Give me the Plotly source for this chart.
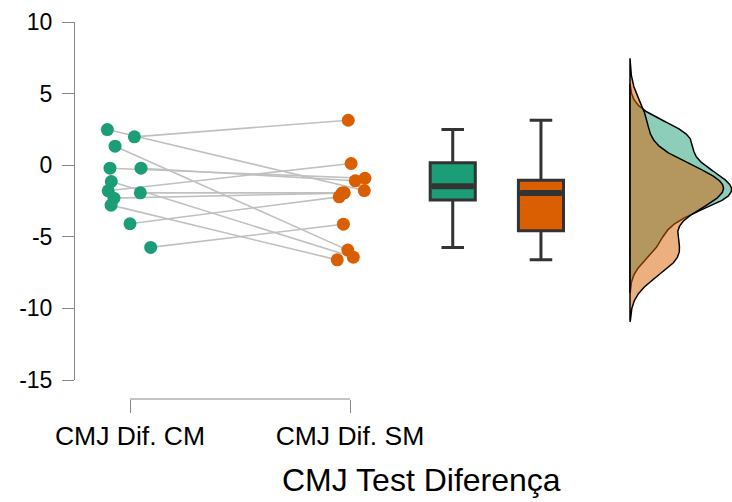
import numpy as np
import plotly.graph_objects as go

# ---------------- data ----------------
categories = ["CMJ Dif. CM", "CMJ Dif. SM"]
cm_values = [2.49, 1.98, 1.33, -0.21, -0.21, -1.14, -1.79, -1.93, -2.30, -2.79, -4.09, -5.74]
sm_values = [-1.77, 3.14, -5.93, -0.91, -1.09, -6.42, 0.12, -1.93, -1.95, -6.61, -2.21, -4.12]
cm_jitter = [-0.103, 0.020, -0.068, -0.091, 0.050, -0.085, -0.099, 0.047, -0.073, -0.086, 0.000, 0.094]
sm_jitter = [0.065, -0.008, -0.010, 0.068, 0.024, 0.015, 0.005, -0.026, -0.036, -0.058, -0.049, -0.030]
y_ticks = [-15, -10, -5, 0, 5, 10]
y_ticklabels = ["-15", "-10", "-5", "0", "5", "10"]
x_title = "CMJ Test Diferença"

# ---------------- styling / layout constants ----------------
GREEN = "#1b9e77"
ORANGE = "#d95f02"
FONT = "Liberation Sans, Arial, sans-serif"
cat_pos = [1, 2]
box_pos = [2.467, 2.868]
box_width = 0.205
dens_base = 3.2727
dens_peak_width = 0.462
x_range = [0.75, 0.75 + 657 / 220]

fig = go.Figure()

cm = np.array(cm_values)
sm = np.array(sm_values)
xcm = cat_pos[0] + np.array(cm_jitter)
xsm = cat_pos[1] + np.array(sm_jitter)

# connecting lines
for i in range(len(cm)):
    fig.add_trace(go.Scatter(x=[xcm[i], xsm[i]], y=[cm[i], sm[i]], mode="lines",
                             line=dict(color="#c0c0c0", width=1.6),
                             showlegend=False, hoverinfo="skip"))

fig.add_trace(go.Scatter(x=xcm, y=cm, mode="markers",
                         marker=dict(color=GREEN, size=13, line=dict(width=0)),
                         showlegend=False))
fig.add_trace(go.Scatter(x=xsm, y=sm, mode="markers",
                         marker=dict(color=ORANGE, size=13, line=dict(width=0)),
                         showlegend=False))

# boxes (stats computed from data)
for vals, pos, col in [(cm, box_pos[0], GREEN), (sm, box_pos[1], ORANGE)]:
    q1, med, q3 = np.percentile(vals, [25, 50, 75])
    iqr = q3 - q1
    lo = vals[vals >= q1 - 1.5 * iqr].min()
    hi = vals[vals <= q3 + 1.5 * iqr].max()
    fig.add_trace(go.Box(x=[pos], q1=[q1], median=[med], q3=[q3],
                         lowerfence=[lo], upperfence=[hi],
                         width=box_width, whiskerwidth=0.5,
                         fillcolor=col, line=dict(color="#333333", width=3),
                         boxpoints=False, showlegend=False))
    fig.add_trace(go.Scatter(x=[pos - box_width / 2 + 0.008, pos + box_width / 2 - 0.008],
                             y=[med, med], mode="lines",
                             line=dict(color="#333333", width=6),
                             showlegend=False, hoverinfo="skip"))


# densities (R-style gaussian KDE, bw.nrd0, cut = 3)
def kde(vals):
    n = len(vals)
    sd = vals.std(ddof=1)
    iqr = np.subtract(*np.percentile(vals, [75, 25]))
    bw = 0.9 * min(sd, iqr / 1.34) * n ** (-0.2)
    grid = np.linspace(vals.min() - 3 * bw, vals.max() + 3 * bw, 512)
    d = np.exp(-0.5 * ((grid[:, None] - vals[None, :]) / bw) ** 2).sum(1) / (n * bw * np.sqrt(2 * np.pi))
    return grid, d


g_cm, d_cm = kde(cm)
g_sm, d_sm = kde(sm)
scale = dens_peak_width / d_cm.max()
for g, d, fill in [(g_cm, d_cm, "rgba(27,158,119,0.5)"), (g_sm, d_sm, "rgba(217,95,2,0.5)")]:
    xs = np.concatenate([[dens_base], dens_base + d * scale, [dens_base, dens_base]])
    ys = np.concatenate([[g[0]], g, [g[-1], g[0]]])
    fig.add_trace(go.Scatter(x=xs, y=ys, mode="lines", fill="toself", fillcolor=fill,
                             line=dict(color="black", width=1.5),
                             showlegend=False, hoverinfo="skip"))

# x axis bracket line (R style)
fig.add_shape(type="line", xref="x", yref="paper", x0=cat_pos[0], x1=cat_pos[1], y0=0, y1=0,
              line=dict(color="#888888", width=1))

fig.add_annotation(text=x_title, xref="paper", yref="paper", x=0.5274, y=-0.215,
                   xanchor="center", yanchor="middle", showarrow=False,
                   font=dict(family=FONT, size=32, color="black"))

fig.update_layout(
    width=732, height=502,
    margin=dict(l=75, r=0, t=22, b=103, autoexpand=False),
    plot_bgcolor="white", paper_bgcolor="white",
    font=dict(family=FONT, color="black"),
    xaxis=dict(range=x_range, tickvals=cat_pos, ticktext=categories,
               ticks="outside", ticklen=13, tickcolor="#888888", tickwidth=1,
               showline=False, showgrid=False, zeroline=False, automargin=False,
               anchor="free", position=0, ticklabelstandoff=0,
               tickfont=dict(family=FONT, size=26.5, color="black")),
    yaxis=dict(range=[-15, 10], domain=[19 / 377, 1], tickvals=y_ticks, ticktext=y_ticklabels,
               ticks="outside", ticklen=12, tickcolor="#888888", tickwidth=1,
               showline=True, linecolor="#888888", linewidth=1, automargin=False,
               showgrid=False, zeroline=False, ticklabelstandoff=5,
               tickfont=dict(family=FONT, size=23, color="black")),
)

fig.write_html("out.html", config={"displayModeBar": False},
               post_script="document.body.style.margin='0px';")
